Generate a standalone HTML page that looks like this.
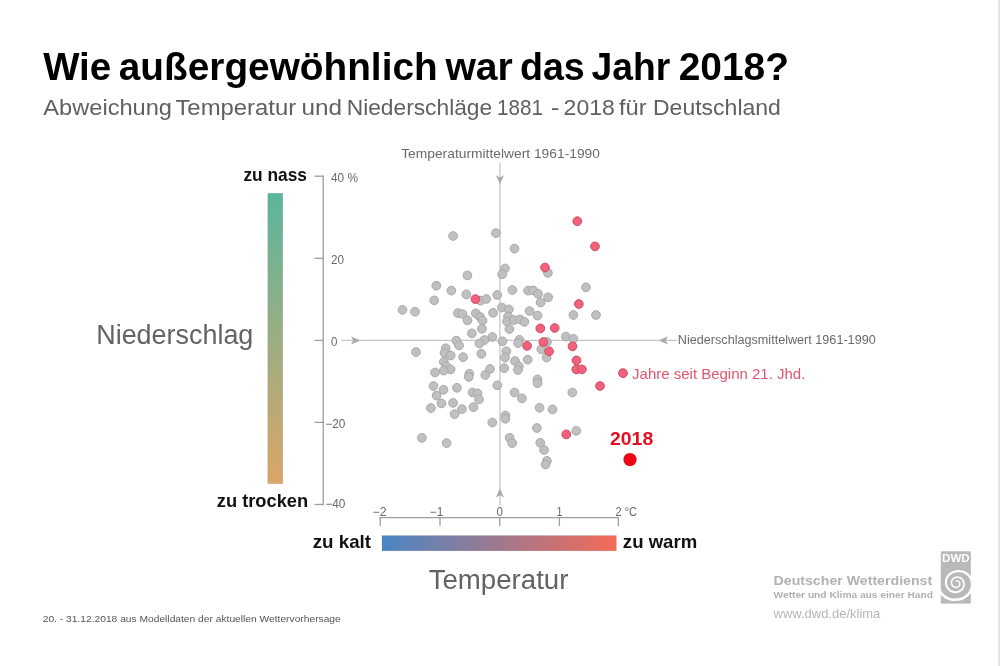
<!DOCTYPE html>
<html lang="de"><head><meta charset="utf-8"><title>Wie außergewöhnlich war das Jahr 2018?</title>
<style>html,body{margin:0;padding:0;background:#fff}body{width:1000px;height:666px;overflow:hidden}svg{display:block}text{font-family:"Liberation Sans",sans-serif}</style></head><body>
<svg width="1000" height="666" viewBox="0 0 1000 666">
<defs><linearGradient id="gp" x1="0" y1="0" x2="0" y2="1"><stop offset="0" stop-color="#5ab69d"/><stop offset="1" stop-color="#dba566"/></linearGradient><linearGradient id="gt" x1="0" y1="0" x2="1" y2="0"><stop offset="0" stop-color="#4a86c5"/><stop offset="1" stop-color="#f46a58"/></linearGradient><clipPath id="lc"><rect x="936" y="551.3" width="40" height="52.3"/></clipPath></defs>
<rect width="1000" height="666" fill="#fff"/>
<rect x="998" y="0" width="2" height="666" fill="#e5e5e5"/>
<text y="79.5" font-size="38.5" fill="#000" font-weight="bold"><tspan x="43.16" textLength="67.97" lengthAdjust="spacingAndGlyphs">Wie</tspan> <tspan x="118.80" textLength="318.86" lengthAdjust="spacingAndGlyphs">außergewöhnlich</tspan> <tspan x="445.46" textLength="67.37" lengthAdjust="spacingAndGlyphs">war</tspan> <tspan x="519.95" textLength="64.81" lengthAdjust="spacingAndGlyphs">das</tspan> <tspan x="591.61" textLength="78.71" lengthAdjust="spacingAndGlyphs">Jahr</tspan> <tspan x="678.66" textLength="110.39" lengthAdjust="spacingAndGlyphs">2018?</tspan></text>
<text y="114.7" font-size="22" fill="#606060"><tspan x="43.33" textLength="128.68" lengthAdjust="spacingAndGlyphs">Abweichung</tspan> <tspan x="175.44" textLength="120.70" lengthAdjust="spacingAndGlyphs">Temperatur</tspan> <tspan x="301.52" textLength="40.56" lengthAdjust="spacingAndGlyphs">und</tspan> <tspan x="346.72" textLength="145.46" lengthAdjust="spacingAndGlyphs">Niederschläge</tspan> <tspan x="496.95" textLength="46.07" lengthAdjust="spacingAndGlyphs">1881</tspan> <tspan x="550.85" textLength="8.88" lengthAdjust="spacingAndGlyphs">-</tspan> <tspan x="563.62" textLength="51.15" lengthAdjust="spacingAndGlyphs">2018</tspan> <tspan x="619.04" textLength="27.67" lengthAdjust="spacingAndGlyphs">für</tspan> <tspan x="652.98" textLength="127.94" lengthAdjust="spacingAndGlyphs">Deutschland</tspan></text>
<g stroke="#c6c6c6" stroke-width="1.3" fill="none">
<line x1="499.9" y1="162.7" x2="499.9" y2="505"/>
<line x1="341.5" y1="340.4" x2="677.5" y2="340.4"/>
</g>
<g fill="#aaa">
<path d="M495.8 175.3 L499.9 177.6 L504 175.3 L499.9 184Z"/>
<path d="M495.8 497.6 L499.9 495.3 L504 497.6 L499.9 488.6Z"/>
<path d="M351 336.3 L353.3 340.4 L351 344.5 L360.2 340.4Z"/>
<path d="M668 336.3 L665.7 340.4 L668 344.5 L658.6 340.4Z"/>
</g>
<g stroke="#9e9e9e" stroke-width="1.3" fill="none">
<line x1="323.2" y1="175.6" x2="323.2" y2="505.1"/>
<line x1="314.5" y1="176.2" x2="323.8" y2="176.2"/>
<line x1="314.5" y1="258.3" x2="323.8" y2="258.3"/>
<line x1="314.5" y1="340.4" x2="323.8" y2="340.4"/>
<line x1="314.5" y1="422.4" x2="323.8" y2="422.4"/>
<line x1="314.5" y1="504.5" x2="323.8" y2="504.5"/>
<line x1="379.6" y1="517.6" x2="619" y2="517.6"/>
<line x1="380.2" y1="517.6" x2="380.2" y2="526"/>
<line x1="440" y1="517.6" x2="440" y2="526"/>
<line x1="499.7" y1="517.6" x2="499.7" y2="526"/>
<line x1="559.4" y1="517.6" x2="559.4" y2="526"/>
<line x1="618.4" y1="517.6" x2="618.4" y2="526"/>
</g>
<text x="331" y="181.8" font-size="12" fill="#686868" textLength="27" lengthAdjust="spacingAndGlyphs">40 %</text>
<text x="331" y="263.8" font-size="12" fill="#686868" textLength="13" lengthAdjust="spacingAndGlyphs">20</text>
<text x="331" y="345.8" font-size="12" fill="#686868" textLength="6.4" lengthAdjust="spacingAndGlyphs">0</text>
<text x="325.4" y="427.8" font-size="12" fill="#686868" textLength="20" lengthAdjust="spacingAndGlyphs">−20</text>
<text x="325.4" y="507.8" font-size="12" fill="#686868" textLength="20" lengthAdjust="spacingAndGlyphs">−40</text>
<text x="372.6" y="516.3" font-size="12" fill="#686868" textLength="14" lengthAdjust="spacingAndGlyphs">−2</text>
<text x="429.8" y="516.3" font-size="12" fill="#686868" textLength="13.5" lengthAdjust="spacingAndGlyphs">−1</text>
<text x="496.6" y="516.3" font-size="12" fill="#686868" textLength="6.4" lengthAdjust="spacingAndGlyphs">0</text>
<text x="556.6" y="516.3" font-size="12" fill="#686868" textLength="6" lengthAdjust="spacingAndGlyphs">1</text>
<text x="615.6" y="516.3" font-size="12" fill="#686868" textLength="21.4" lengthAdjust="spacingAndGlyphs">2 °C</text>
<text x="401.18" y="158" font-size="13.2" fill="#6a6a6a" textLength="198.82" lengthAdjust="spacingAndGlyphs">Temperaturmittelwert 1961-1990</text>
<text x="677.85" y="344.1" font-size="12" fill="#6a6a6a" textLength="197.86" lengthAdjust="spacingAndGlyphs">Niederschlagsmittelwert 1961-1990</text>
<rect x="267.8" y="193.3" width="14.9" height="290.3" fill="url(#gp)" stroke="#000" stroke-opacity="0.13" stroke-width="0.7"/>
<rect x="382" y="535.6" width="234.3" height="15.2" fill="url(#gt)" stroke="#000" stroke-opacity="0.13" stroke-width="0.7"/>
<text x="243.43" y="181" font-size="17.8" fill="#111" font-weight="bold" textLength="63.57" lengthAdjust="spacingAndGlyphs">zu nass</text>
<text x="216.75" y="506.8" font-size="17.8" fill="#111" font-weight="bold" textLength="91.44" lengthAdjust="spacingAndGlyphs">zu trocken</text>
<text x="312.73" y="547.8" font-size="17.8" fill="#111" font-weight="bold" textLength="58.3" lengthAdjust="spacingAndGlyphs">zu kalt</text>
<text x="622.86" y="547.7" font-size="17.8" fill="#111" font-weight="bold" textLength="74.3" lengthAdjust="spacingAndGlyphs">zu warm</text>
<text x="96.23" y="343.5" font-size="26.8" fill="#636363" textLength="157.12" lengthAdjust="spacingAndGlyphs">Niederschlag</text>
<text x="428.67" y="588.5" font-size="26.8" fill="#636363" textLength="139.71" lengthAdjust="spacingAndGlyphs">Temperatur</text>
<g fill="#c0c0c0" stroke="#a8a8a8" stroke-width="1">
<circle cx="453.1" cy="236" r="4.35"/>
<circle cx="495.9" cy="233.1" r="4.35"/>
<circle cx="514.5" cy="248.6" r="4.35"/>
<circle cx="505" cy="268.5" r="4.35"/>
<circle cx="502.2" cy="274.3" r="4.35"/>
<circle cx="467.4" cy="275.4" r="4.35"/>
<circle cx="436.3" cy="285.7" r="4.35"/>
<circle cx="451.3" cy="290.6" r="4.35"/>
<circle cx="434.2" cy="300.4" r="4.35"/>
<circle cx="402.5" cy="309.9" r="4.35"/>
<circle cx="415" cy="311.7" r="4.35"/>
<circle cx="466.3" cy="294.4" r="4.35"/>
<circle cx="480.6" cy="300.6" r="4.35"/>
<circle cx="486.3" cy="299" r="4.35"/>
<circle cx="497.2" cy="295" r="4.35"/>
<circle cx="512.3" cy="290" r="4.35"/>
<circle cx="457.9" cy="313.1" r="4.35"/>
<circle cx="462.5" cy="314" r="4.35"/>
<circle cx="467.5" cy="320.3" r="4.35"/>
<circle cx="475.8" cy="313.3" r="4.35"/>
<circle cx="480" cy="316.9" r="4.35"/>
<circle cx="482.5" cy="320.6" r="4.35"/>
<circle cx="481.9" cy="328.8" r="4.35"/>
<circle cx="493.1" cy="312.8" r="4.35"/>
<circle cx="501.9" cy="307.5" r="4.35"/>
<circle cx="508.8" cy="309.4" r="4.35"/>
<circle cx="471.9" cy="333.4" r="4.35"/>
<circle cx="492.3" cy="337" r="4.35"/>
<circle cx="484.4" cy="340" r="4.35"/>
<circle cx="479.4" cy="343.5" r="4.35"/>
<circle cx="456.3" cy="340.6" r="4.35"/>
<circle cx="459.1" cy="345.4" r="4.35"/>
<circle cx="502.5" cy="341.3" r="4.35"/>
<circle cx="416" cy="352.1" r="4.35"/>
<circle cx="481.3" cy="353.8" r="4.35"/>
<circle cx="463.1" cy="357.2" r="4.35"/>
<circle cx="445.7" cy="348.3" r="4.35"/>
<circle cx="444.5" cy="353" r="4.35"/>
<circle cx="450.7" cy="355.5" r="4.35"/>
<circle cx="443.8" cy="362" r="4.35"/>
<circle cx="446.3" cy="366.3" r="4.35"/>
<circle cx="450.6" cy="369.4" r="4.35"/>
<circle cx="443.8" cy="370.6" r="4.35"/>
<circle cx="435" cy="372.5" r="4.35"/>
<circle cx="506.3" cy="351.3" r="4.35"/>
<circle cx="505" cy="357.5" r="4.35"/>
<circle cx="508" cy="316.5" r="4.35"/>
<circle cx="507" cy="321.5" r="4.35"/>
<circle cx="509.4" cy="329" r="4.35"/>
<circle cx="513.8" cy="320" r="4.35"/>
<circle cx="520" cy="319.4" r="4.35"/>
<circle cx="524.4" cy="321.9" r="4.35"/>
<circle cx="528.1" cy="290.6" r="4.35"/>
<circle cx="533.1" cy="290.4" r="4.35"/>
<circle cx="538.1" cy="293.8" r="4.35"/>
<circle cx="548.1" cy="297.3" r="4.35"/>
<circle cx="540.6" cy="302.5" r="4.35"/>
<circle cx="586" cy="287.3" r="4.35"/>
<circle cx="573.4" cy="315" r="4.35"/>
<circle cx="596" cy="315" r="4.35"/>
<circle cx="529.6" cy="311" r="4.35"/>
<circle cx="537.5" cy="315.6" r="4.35"/>
<circle cx="565.9" cy="336.5" r="4.35"/>
<circle cx="573.4" cy="338.8" r="4.35"/>
<circle cx="519.4" cy="339.8" r="4.35"/>
<circle cx="518.1" cy="343.1" r="4.35"/>
<circle cx="546.9" cy="341.9" r="4.35"/>
<circle cx="541.3" cy="349.4" r="4.35"/>
<circle cx="546.6" cy="357.5" r="4.35"/>
<circle cx="547.9" cy="272.9" r="4.35"/>
<circle cx="515" cy="361" r="4.35"/>
<circle cx="527.7" cy="359.7" r="4.35"/>
<circle cx="504.2" cy="368.1" r="4.35"/>
<circle cx="518.8" cy="366.3" r="4.35"/>
<circle cx="517.9" cy="370" r="4.35"/>
<circle cx="537.5" cy="379.4" r="4.35"/>
<circle cx="537.5" cy="383.1" r="4.35"/>
<circle cx="497.3" cy="385.3" r="4.35"/>
<circle cx="514.6" cy="392.5" r="4.35"/>
<circle cx="521.9" cy="398.4" r="4.35"/>
<circle cx="572.3" cy="392.5" r="4.35"/>
<circle cx="539.6" cy="407.8" r="4.35"/>
<circle cx="552.5" cy="409.4" r="4.35"/>
<circle cx="505.4" cy="415.6" r="4.35"/>
<circle cx="505.4" cy="418.8" r="4.35"/>
<circle cx="536.9" cy="428" r="4.35"/>
<circle cx="576.3" cy="430.9" r="4.35"/>
<circle cx="490" cy="369" r="4.35"/>
<circle cx="485.3" cy="375" r="4.35"/>
<circle cx="469.4" cy="373.8" r="4.35"/>
<circle cx="468.8" cy="376.9" r="4.35"/>
<circle cx="433.5" cy="386" r="4.35"/>
<circle cx="443.5" cy="389.8" r="4.35"/>
<circle cx="436.6" cy="395.6" r="4.35"/>
<circle cx="456.9" cy="387.8" r="4.35"/>
<circle cx="472.5" cy="392.5" r="4.35"/>
<circle cx="477.5" cy="393.4" r="4.35"/>
<circle cx="479" cy="399.4" r="4.35"/>
<circle cx="441.5" cy="403.4" r="4.35"/>
<circle cx="453.1" cy="402.9" r="4.35"/>
<circle cx="430.9" cy="408.1" r="4.35"/>
<circle cx="461.9" cy="409.1" r="4.35"/>
<circle cx="473.5" cy="407.1" r="4.35"/>
<circle cx="454.6" cy="414.1" r="4.35"/>
<circle cx="492.3" cy="422.5" r="4.35"/>
<circle cx="421.9" cy="437.8" r="4.35"/>
<circle cx="446.6" cy="443.1" r="4.35"/>
<circle cx="509.6" cy="437.8" r="4.35"/>
<circle cx="512.2" cy="443.1" r="4.35"/>
<circle cx="540.3" cy="442.8" r="4.35"/>
<circle cx="544.1" cy="450" r="4.35"/>
<circle cx="546.9" cy="460.9" r="4.35"/>
<circle cx="545.6" cy="464.4" r="4.35"/>
</g>
<g fill="#f2627c" stroke="#cf4a64" stroke-width="1">
<circle cx="577.3" cy="221.2" r="4.35"/>
<circle cx="595" cy="246.4" r="4.35"/>
<circle cx="545" cy="267.5" r="4.35"/>
<circle cx="475.4" cy="299.1" r="4.35"/>
<circle cx="578.8" cy="304" r="4.35"/>
<circle cx="540.3" cy="328.4" r="4.35"/>
<circle cx="554.7" cy="328" r="4.35"/>
<circle cx="527.1" cy="345.8" r="4.35"/>
<circle cx="543.4" cy="342.1" r="4.35"/>
<circle cx="572.5" cy="346.3" r="4.35"/>
<circle cx="549.1" cy="351.3" r="4.35"/>
<circle cx="576.5" cy="360.4" r="4.35"/>
<circle cx="576.3" cy="369.4" r="4.35"/>
<circle cx="581.9" cy="369.4" r="4.35"/>
<circle cx="600" cy="386" r="4.35"/>
<circle cx="566.3" cy="434.4" r="4.35"/>
<circle cx="623" cy="373.1" r="4.35"/>
</g>
<circle cx="630" cy="459.5" r="6.6" fill="#ee0513"/>
<text x="610.0" y="445.4" font-size="18.4" fill="#e0101e" font-weight="bold" textLength="43.23" lengthAdjust="spacingAndGlyphs">2018</text>
<text x="632.08" y="378.9" font-size="14.6" fill="#e0566e" textLength="173.27" lengthAdjust="spacingAndGlyphs">Jahre seit Beginn 21. Jhd.</text>
<text x="42.73" y="622" font-size="9.9" fill="#555" textLength="298.03" lengthAdjust="spacingAndGlyphs">20. - 31.12.2018 aus Modelldaten der aktuellen Wettervorhersage</text>
<text x="773.54" y="584.6" font-size="12.6" fill="#b2b2b2" font-weight="bold" textLength="158.67" lengthAdjust="spacingAndGlyphs">Deutscher Wetterdienst</text>
<text x="773.57" y="598.3" font-size="9.8" fill="#b0b0b0" font-weight="bold" textLength="159.42" lengthAdjust="spacingAndGlyphs">Wetter und Klima aus einer Hand</text>
<text x="773.57" y="618" font-size="13.4" fill="#b6b6b6" textLength="106.74" lengthAdjust="spacingAndGlyphs">www.dwd.de/klima</text>
<rect x="940.8" y="551.3" width="30" height="52.3" fill="#b9b9b9"/>
<g clip-path="url(#lc)"><path d="M935.38 583.30 L935.77 585.49 L936.37 587.60 L937.19 589.61 L938.20 591.49 L939.40 593.23 L940.71 594.84 L942.18 596.29 L943.77 597.55 L945.46 598.63 L947.24 599.51 L949.08 600.19 L950.96 600.67 L952.85 600.94 L954.74 601.00 L956.60 600.87 L958.43 600.74 L960.24 600.42 L962.00 599.91 L963.69 599.22 L965.29 598.36 L966.80 597.33 L968.18 596.16 L969.44 594.86 L970.55 593.43 L971.50 591.90 L972.29 590.29 L972.91 588.60 L973.34 586.86 L973.59 585.09 L973.65 583.30 L973.31 581.54 L972.79 579.86 L972.10 578.26 L971.26 576.77 L970.28 575.40 L969.18 574.16 L967.96 573.07 L966.64 572.15 L965.25 571.40 L963.81 570.81 L962.35 570.38 L960.88 570.13 L959.42 570.03 L957.99 570.10 L956.60 570.31 L955.25 570.47 L953.93 570.76 L952.66 571.19 L951.45 571.74 L950.31 572.41 L949.26 573.20 L948.30 574.08 L947.44 575.06 L946.70 576.11 L946.07 577.22 L945.57 578.39 L945.20 579.60 L944.96 580.82 L944.84 582.06 L944.86 583.30 L945.06 584.51 L945.38 585.69 L945.81 586.80 L946.36 587.86 L947.01 588.84 L947.74 589.73 L948.56 590.54 L949.45 591.24 L950.40 591.83 L951.39 592.32 L952.42 592.70 L953.46 592.96 L954.52 593.10 L955.57 593.14 L956.60 593.06 L957.61 592.90 L958.59 592.64 L959.52 592.28 L960.40 591.83 L961.22 591.30 L961.97 590.69 L962.64 590.01 L963.23 589.27 L963.74 588.48 L964.15 587.66 L964.47 586.80 L964.69 585.93 L964.82 585.05 L964.85 584.17 L964.79 583.30 L964.67 582.45 L964.45 581.63 L964.16 580.85 L963.78 580.10 L963.34 579.41 L962.82 578.78 L962.26 578.21 L961.64 577.71 L960.98 577.28 L960.28 576.93 L959.56 576.65 L958.82 576.46 L958.08 576.34 L957.33 576.31 L956.60 576.36 L955.88 576.46 L955.19 576.64 L954.52 576.89 L953.89 577.21 L953.30 577.59 L952.76 578.02 L952.28 578.50 L951.85 579.03 L951.49 579.59 L951.19 580.18 L950.95 580.79 L950.79 581.41 L950.69 582.04 L950.66 582.68 L950.70 583.30 L950.80 583.91 L950.96 584.50 L951.18 585.06 L951.46 585.59 L951.79 586.08 L952.16 586.52 L952.58 586.92 L953.02 587.27 L953.50 587.57 L954.00 587.81 L954.51 587.99 L955.03 588.12 L955.56 588.19 L956.08 588.20 L956.60 588.16 L957.10 588.07 L957.58 587.93 L958.04 587.74 L958.48 587.51 L958.87 587.24 L959.24 586.93 L959.56 586.59 L959.84 586.22 L960.08 585.83 L960.27 585.42 L960.41 585.00 L960.51 584.57 L960.56 584.14 L960.56 583.72 L960.52 583.30 L960.45 582.90 L960.33 582.51 L960.17 582.14 L959.98 581.80 L959.76 581.48 L959.50 581.19 L959.23 580.94 L958.93 580.72 L958.61 580.53 L958.28 580.38 L957.95 580.28 L957.61 580.20 L957.27 580.17 L956.93 580.17 L956.60 580.21 L956.29 580.35 L956.01 580.51 L955.76 580.71 L955.54 580.92 L955.36 581.14 L955.21 581.38 L955.09 581.63 L955.01 581.87 L954.94 582.09 L954.87 582.30 L955.04 582.40 L955.10 582.21 L955.21 582.05 L955.36 581.93 L955.52 581.82 L955.69 581.73 L955.87 581.66 L956.05 581.61 L956.24 581.59 L956.42 581.58 L956.60 581.59 L956.78 581.55 L956.98 581.53 L957.18 581.53 L957.38 581.55 L957.58 581.60 L957.79 581.67 L957.98 581.76 L958.18 581.88 L958.36 582.02 L958.52 582.19 L958.68 582.38 L958.81 582.58 L958.92 582.81 L959.01 583.05 L959.08 583.30 L959.12 583.56 L959.14 583.84 L959.12 584.12 L959.07 584.40 L958.99 584.68 L958.88 584.96 L958.74 585.23 L958.57 585.48 L958.36 585.72 L958.13 585.94 L957.86 586.14 L957.58 586.31 L957.27 586.45 L956.94 586.56 L956.60 586.64 L956.24 586.69 L955.88 586.69 L955.51 586.66 L955.14 586.58 L954.77 586.47 L954.41 586.31 L954.07 586.11 L953.74 585.88 L953.43 585.60 L953.15 585.29 L952.91 584.94 L952.69 584.57 L952.52 584.17 L952.39 583.74 L952.30 583.30 L952.26 582.84 L952.27 582.38 L952.33 581.91 L952.44 581.45 L952.60 580.99 L952.81 580.55 L953.07 580.13 L953.38 579.73 L953.74 579.36 L954.13 579.02 L954.57 578.73 L955.04 578.48 L955.53 578.28 L956.06 578.14 L956.60 578.04 L957.16 578.00 L957.72 578.01 L958.30 578.08 L958.86 578.22 L959.42 578.42 L959.96 578.68 L960.48 579.00 L960.96 579.37 L961.41 579.81 L961.82 580.29 L962.17 580.82 L962.47 581.39 L962.72 582.00 L962.89 582.64 L963.01 583.30 L963.07 583.98 L963.05 584.67 L962.97 585.37 L962.80 586.06 L962.56 586.74 L962.25 587.40 L961.86 588.03 L961.40 588.63 L960.87 589.18 L960.28 589.68 L959.63 590.11 L958.93 590.49 L958.19 590.78 L957.41 591.00 L956.60 591.14 L955.77 591.22 L954.92 591.21 L954.06 591.10 L953.21 590.91 L952.38 590.62 L951.56 590.23 L950.78 589.76 L950.05 589.20 L949.37 588.55 L948.76 587.83 L948.22 587.03 L947.76 586.17 L947.39 585.26 L947.11 584.30 L946.94 583.30 L946.91 582.28 L947.00 581.26 L947.19 580.24 L947.49 579.25 L947.90 578.28 L948.41 577.35 L949.02 576.48 L949.72 575.66 L950.52 574.92 L951.39 574.27 L952.33 573.70 L953.33 573.24 L954.38 572.87 L955.48 572.62 L956.60 572.49 L957.76 572.28 L958.96 572.21 L960.19 572.26 L961.43 572.46 L962.67 572.79 L963.89 573.27 L965.07 573.89 L966.21 574.65 L967.25 575.56 L968.20 576.60 L969.05 577.76 L969.78 579.02 L970.38 580.37 L970.84 581.80 L971.15 583.30 L971.10 584.82 L970.89 586.34 L970.52 587.82 L970.00 589.26 L969.32 590.65 L968.51 591.95 L967.56 593.17 L966.49 594.29 L965.31 595.29 L964.03 596.16 L962.66 596.90 L961.21 597.49 L959.71 597.93 L958.17 598.21 L956.60 598.33 L955.01 598.45 L953.39 598.41 L951.76 598.19 L950.14 597.80 L948.56 597.23 L947.02 596.48 L945.56 595.56 L944.18 594.48 L942.91 593.25 L941.76 591.87 L940.72 590.37 L939.83 588.75 L939.11 587.02 L938.57 585.20 L938.22 583.30Z" fill="#fff"/></g>
<text x="942.1" y="561.6" font-size="10.8" fill="#fff" font-weight="bold" textLength="27.6" lengthAdjust="spacingAndGlyphs">DWD</text>
</svg></body></html>
